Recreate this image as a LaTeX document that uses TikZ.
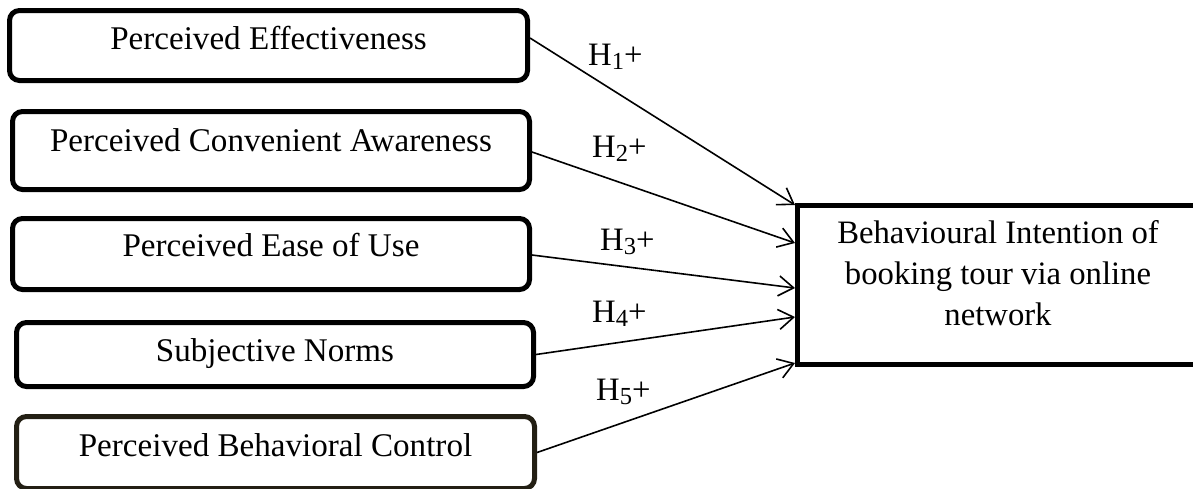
\documentclass[tikz,border=0pt]{standalone}
\usepackage{fontspec}
\setmainfont{Liberation Serif}
\usetikzlibrary{arrows.meta,calc}
\definecolor{darkbrown}{RGB}{35,31,20}
\newcommand\hsubscr[1]{\raisebox{-4pt}{\fontsize{24.5}{24.5}\selectfont #1}}
\begin{document}
\begin{tikzpicture}[x=1pt,y=-1pt,
  every node/.style={font=\fontsize{32.7}{41}\selectfont},
  lbox/.style={draw, line width=5pt, rounded corners=10pt, minimum width=517pt, inner sep=0pt, text height=22pt, font=\fontsize{33.1}{41}\selectfont},
  rbox/.style={draw, line width=5pt, minimum width=401pt, minimum height=159pt, align=center, inner sep=0pt},
  hyp/.style={line width=1.6pt, -{Straight Barb[length=15pt,width=20pt,line width=1.6pt]}},
  hlab/.style={anchor=base west, inner sep=0pt}
]
\useasboundingbox (0,0) rectangle (1193,488);
\node[lbox, minimum width=518pt, minimum height=70pt, text depth=13.4pt] (b1) at (268.5,45.5) {Perceived Effectiveness};
\node[lbox, minimum height=78pt, text depth=20.4pt] (b2) at (271,150.5) {Perceived Convenient Awareness};
\node[lbox, minimum height=71pt, text depth=16.4pt] (b3) at (271,254) {Perceived Ease of Use};
\node[lbox, minimum height=64pt, text depth=7.4pt] (b4) at (275,354.5) {Subjective Norms};
\node[lbox, draw=darkbrown, minimum width=518pt, minimum height=72pt, text depth=13.4pt] (b5) at (275.5,452.5) {Perceived Behavioral Control};
\node[rbox, text depth=23pt] (R) at (998,284.5) {Behavioural Intention of\\booking tour via online\\network};
\draw[hyp] ($(b1.east)+(0,-7.5)$) -- ($(R.west)+(0,-79.5)$);
\draw[hyp] ($(b2.east)+(0,1.5)$) -- ($(R.west)+(0,-41.5)$);
\draw[hyp] ($(b3.east)+(0,1)$) -- ($(R.west)+(0,3.5)$);
\draw[hyp] (b4.east) -- ($(R.west)+(0,32.5)$);
\draw[hyp] (b5.east) -- ($(R.west)+(0,78.5)$);
\node[hlab] (h1) at (588,65) {H\hsubscr{1}+};
\node[hlab] (h2) at (592,157) {H\hsubscr{2}+};
\node[hlab] (h3) at (600,250) {H\hsubscr{3}+};
\node[hlab] (h4) at (592,322) {H\hsubscr{4}+};
\node[hlab] (h5) at (596,400) {H\hsubscr{5}+};
\end{tikzpicture}
\end{document}
